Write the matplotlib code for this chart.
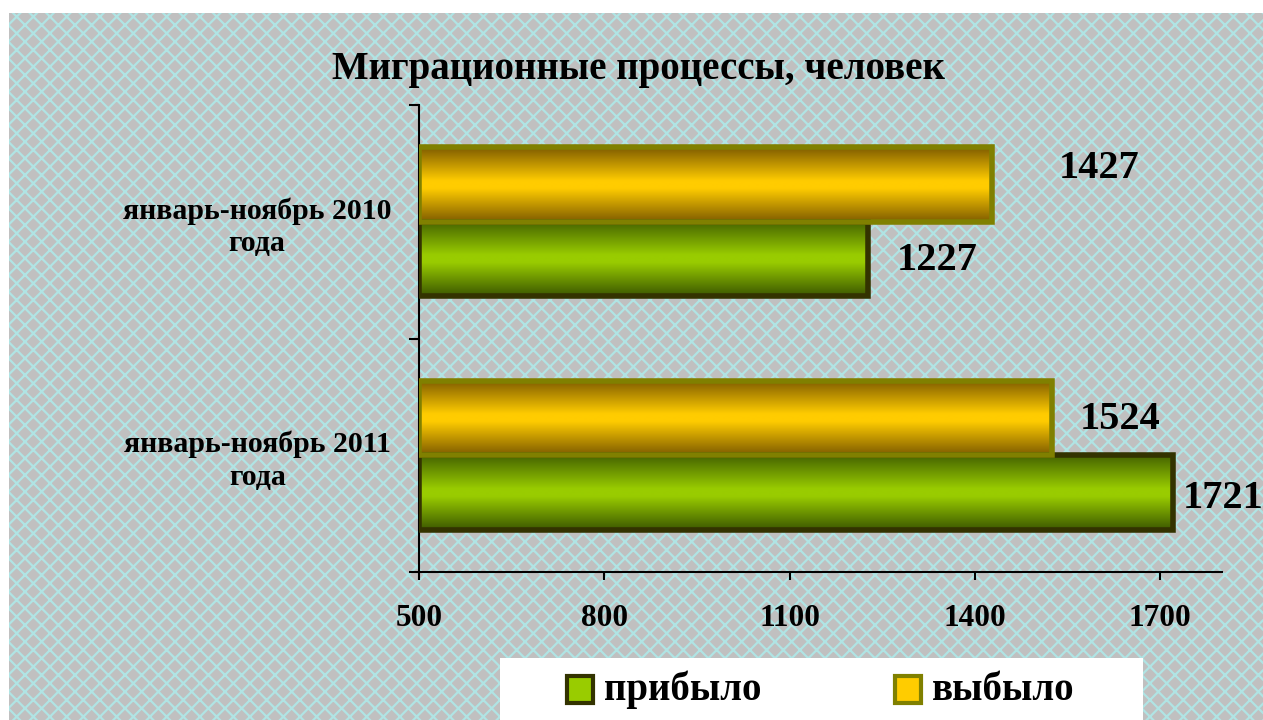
import numpy as np
import matplotlib
matplotlib.use("Agg")
import matplotlib.pyplot as plt
from matplotlib.patches import Rectangle
from matplotlib.colors import LinearSegmentedColormap

plt.rcParams['font.family'] = ['Liberation Serif', 'DejaVu Serif']
plt.rcParams['font.weight'] = 'bold'
plt.rcParams['hatch.linewidth'] = 1.6

# data
categories = ["январь-ноябрь 2011\nгода", "январь-ноябрь 2010\nгода"]
arrived = [1721, 1227]    # прибыло
departed = [1524, 1427]   # выбыло
series_names = ["прибыло", "выбыло"]
x_ticks = [500, 800, 1100, 1400, 1700]

XMIN, XMAX = 500, 1800
W, H = 1263, 720

fig = plt.figure(figsize=(W / 100, H / 100), dpi=100, facecolor="white")

# patterned background (white strip on top and left)
bg = Rectangle((9 / W, 0), 1 - 9 / W, 1 - 13 / H, transform=fig.transFigure,
               facecolor="#C0C0C0", edgecolor="#B0E4E4", hatch="xx",
               linewidth=0, zorder=-10)
fig.patches.append(bg)

ax = fig.add_axes([419 / W, 1 - 572 / H, (1222 - 419) / W, (572 - 105) / H])
ax.set_facecolor("none")

pos = np.arange(len(categories))
bh = 0.32


def grad_cmap(dark_top, light, dark_bot):
    return LinearSegmentedColormap.from_list(
        "g", [(0, dark_top), (0.45, light), (0.55, light), (1, dark_bot)], N=256)


styles = {
    "arr": dict(cmap=grad_cmap("#456300", "#99CC00", "#3C5800"), edge="#333300"),
    "dep": dict(cmap=grad_cmap("#7F5C00", "#FFCC00", "#7F5C00"), edge="#808000"),
}

bars_arr = ax.barh(pos - bh / 2, np.array(arrived) - XMIN, left=XMIN,
                   height=bh, facecolor="none",
                   edgecolor=styles["arr"]["edge"], linewidth=4, zorder=3)
bars_dep = ax.barh(pos + bh / 2, np.array(departed) - XMIN, left=XMIN,
                   height=bh, facecolor="none",
                   edgecolor=styles["dep"]["edge"], linewidth=4, zorder=3)

grad = np.linspace(0, 1, 256).reshape(-1, 1)
for bars, key in [(bars_arr, "arr"), (bars_dep, "dep")]:
    for b in bars:
        x0, y0 = b.get_x(), b.get_y()
        x1, y1 = x0 + b.get_width(), y0 + b.get_height()
        ax.imshow(grad, cmap=styles[key]["cmap"], aspect="auto",
                  extent=(x0, x1, y0, y1), origin="upper", zorder=2,
                  interpolation="bilinear")

ax.set_xlim(XMIN, XMAX)
ax.set_ylim(-0.5, len(categories) - 0.5)

# value labels (offsets in px, moved by hand like the original)
lab_font = dict(fontsize=29, fontweight="bold", color="black")
arr_off = [(10, -6), (29, -1)]
dep_off = [(28, -2), (67, 16)]
for bars, vals, offs in [(bars_arr, arrived, arr_off),
                         (bars_dep, departed, dep_off)]:
    for b, v, (dx, dy) in zip(bars, vals, offs):
        ax.annotate(f"{v}", (b.get_x() + b.get_width(), b.get_y() + b.get_height() / 2),
                    xytext=(dx * 0.72, dy * 0.72), textcoords="offset points",
                    ha="left", va="center", annotation_clip=False, **lab_font)

# axes styling
for s in ["top", "right"]:
    ax.spines[s].set_visible(False)
for s in ["left", "bottom"]:
    ax.spines[s].set_linewidth(1.5)
    ax.spines[s].set_color("black")

ax.set_xticks(x_ticks)
ax.set_xticklabels([str(t) for t in x_ticks], fontsize=22.5, fontweight="bold")
ax.tick_params(axis="x", direction="out", length=6, width=1.5, pad=17)

ax.set_yticks(np.arange(-0.5, len(categories)))
ax.set_yticklabels([])
ax.tick_params(axis="y", which="major", direction="out", length=7, width=1.5)
ax.set_yticks(pos, minor=True)
ax.set_yticklabels(categories, minor=True, fontsize=21.5, fontweight="bold",
                   multialignment="center", linespacing=1.25)
ax.tick_params(axis="y", which="minor", length=0, pad=20)

fig.text(639 / W, 1 - 70 / H, "Миграционные процессы, человек",
         ha="center", va="center", fontsize=28, fontweight="bold")

# legend box
fig.patches.append(Rectangle((500 / W, 0), (1143 - 500) / W, (720 - 658) / H,
                             transform=fig.transFigure, facecolor="white",
                             edgecolor="none", zorder=5))
leg_items = [(567, series_names[0], "#99CC00", "#333300"),
             (895, series_names[1], "#FFCC00", "#808000")]
for lx, name, fc, ec in leg_items:
    fig.patches.append(Rectangle((lx / W, 1 - 703 / H), 26 / W, 27 / H,
                                 transform=fig.transFigure, facecolor=fc,
                                 edgecolor=ec, linewidth=3, zorder=6))
    fig.text((lx + 37) / W, 1 - 690 / H, name, ha="left", va="center",
             fontsize=28, fontweight="bold", zorder=7)

fig.savefig("out.png", dpi=100, facecolor="white")
